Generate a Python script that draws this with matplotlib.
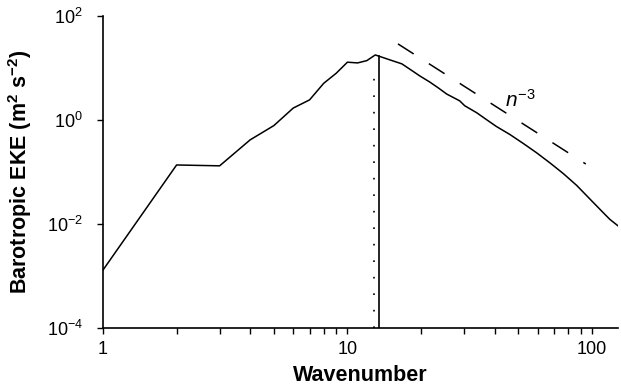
import matplotlib
matplotlib.use("Agg")
import matplotlib.pyplot as plt
import numpy as np

# Spectrum (wavenumber, barotropic EKE in m^2 s^-2)
wavenumber = [1, 2, 3, 4, 5, 6, 7, 8, 9, 10, 11, 12, 13,
              14.9, 16.7, 18.0, 19.8, 21.7, 23.5, 25.5, 28.8, 30.2, 33.8,
              37.1, 40.7, 46.2, 52.4, 59.4, 67.4, 76.3, 86.6, 98.2, 111.2,
              118.5, 128.2]
eke = [1.3e-3, 0.135, 0.13, 0.41, 0.77, 1.67, 2.4, 5.0, 7.8, 12.7, 12.3, 13.6, 17.5,
       14.1, 11.8, 9.33, 6.9, 5.3, 4.1, 3.1, 2.3, 1.85, 1.36,
       1.0, 0.74, 0.52, 0.35, 0.232, 0.148, 0.093, 0.055, 0.0300, 0.0165,
       0.0122, 0.0091]

# n^-3 reference slope
ref_n = [16.1, 94.5]
ref_coef = 1.19e5

# vertical markers
peak_n = 13.5
peak_top = 17.0
dotted_n = 12.85
dotted_top = 10.5

x_ticks = [1, 10, 100]
y_ticks = [1e-4, 1e-2, 1e0, 1e2]
y_labels = [r'$10^{-4}$', r'$10^{-2}$', r'$10^{0}$', r'$10^{2}$']

plt.rcParams['font.family'] = 'Liberation Sans'
plt.rcParams['mathtext.fontset'] = 'custom'
plt.rcParams['mathtext.rm'] = 'Liberation Sans'
plt.rcParams['mathtext.it'] = 'Liberation Sans:italic'
plt.rcParams['mathtext.bf'] = 'Liberation Sans:bold'

fig = plt.figure(figsize=(6.21, 3.89), dpi=100)
ax = fig.add_axes([0.1659, 0.1568, 0.8293, 0.8033])

ax.plot(wavenumber, eke, color='black', lw=1.1)

ref_x = np.array(ref_n)
ax.plot(ref_x, ref_coef * ref_x ** -3.0, color='black', lw=1.1,
        linestyle=(0, (12.2, 11.8)))
ax.text(44.1, 1.8, r'$n^{-3}$', fontsize=15, ha='left', va='baseline')

ax.plot([peak_n, peak_n], [1e-4, peak_top], color='black', lw=1.2)
ax.plot([dotted_n, dotted_n], [1e-4, dotted_top], color='black', lw=1.2,
        linestyle=(0, (1.0, 8.9)))

ax.set_xscale('log')
ax.set_yscale('log')
ax.set_xlim(1, 128)
ax.set_ylim(1e-4, 1e2)

ax.set_xticks(x_ticks)
ax.set_xticklabels(['1', '10', '100'])
ax.set_yticks(y_ticks)
ax.set_yticklabels(y_labels)
ax.yaxis.set_minor_locator(matplotlib.ticker.NullLocator())

for side in ['top', 'right']:
    ax.spines[side].set_visible(False)
for side in ['left', 'bottom']:
    ax.spines[side].set_linewidth(1.2)

ax.tick_params(axis='both', which='both', direction='out', length=4.5,
               width=1.0, labelsize=13)
ax.tick_params(axis='x', which='both', pad=5)
ax.tick_params(axis='y', which='both', pad=10)

ax.set_xlabel('Wavenumber', fontsize=15.5, fontweight='bold', labelpad=5)
ax.set_ylabel(r'Barotropic EKE (m$^{\mathbf{2}}$ s$^{\mathbf{-2}}$)',
              fontsize=15.5, fontweight='bold', labelpad=9)

fig.savefig('out.png', dpi=100)
